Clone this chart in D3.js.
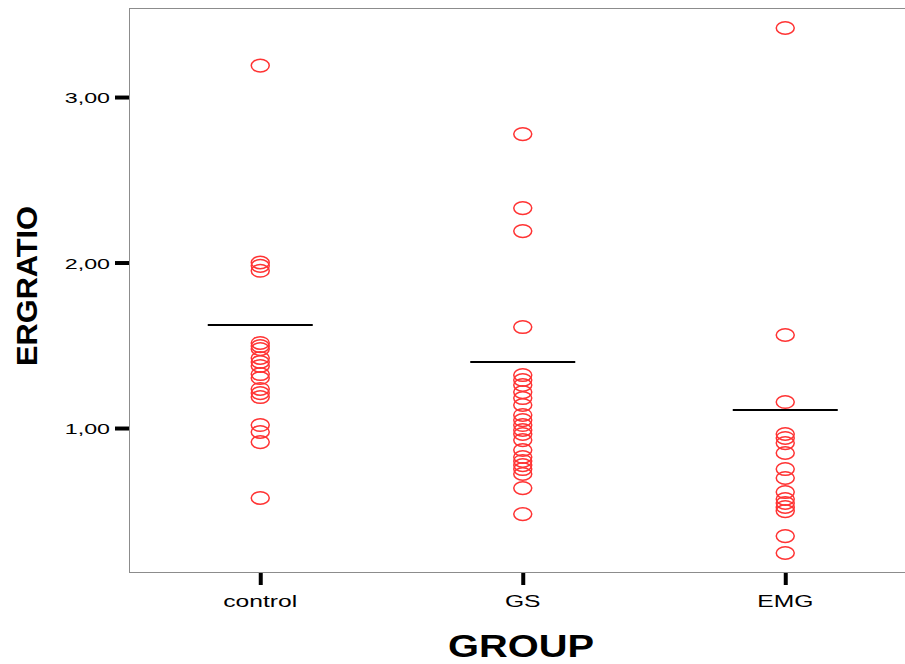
<!DOCTYPE html>
<html>
<head>
<meta charset="utf-8">
<script src="https://cdn.jsdelivr.net/npm/d3@7/dist/d3.min.js"></script>
<style>
  html, body { margin: 0; padding: 0; background: #fff; }
  svg { display: block; font-family: "Liberation Sans", Arial, sans-serif; }
</style>
</head>
<body>
<svg id="chart" width="905" height="664"></svg>
<script>
// Groups on the x axis
const groups = ["control", "GS", "EMG"];

// ERGRATIO observations per group
const controlValues = [3.19, 2.00, 1.98, 1.95, 1.514, 1.495, 1.477, 1.423, 1.399, 1.375,
  1.326, 1.302, 1.236, 1.211, 1.187, 1.018, 0.976, 0.915, 0.577];
const gsValues = [2.776, 2.329, 2.190, 1.610, 1.320, 1.290, 1.260, 1.217, 1.181, 1.139,
  1.079, 1.048, 1.018, 0.988, 0.964, 0.927, 0.867, 0.825, 0.801, 0.776, 0.752, 0.722,
  0.637, 0.480];
const emgValues = [3.417, 1.562, 1.157, 0.964, 0.940, 0.909, 0.849, 0.752, 0.698, 0.613,
  0.571, 0.547, 0.523, 0.498, 0.347, 0.245];

// Group reference lines (horizontal bars)
const groupMeans = [1.622, 1.399, 1.109];

// Y axis ticks
const yTicks = [1, 2, 3];
const yTickLabels = ["1,00", "2,00", "3,00"];

const seriesByGroup = [controlValues, gsValues, emgValues];

const svg = d3.select("#chart");

const plot = { left: 129, top: 8, right: 916.5, bottom: 572 };

const x = d3.scalePoint()
  .domain(groups)
  .range([plot.left, plot.right])
  .padding(0.5);

const y = d3.scaleLinear()
  .domain([0.13, 3.538])
  .range([plot.bottom, plot.top]);

// Plot frame
svg.append("rect")
  .attr("x", plot.left + 0.5)
  .attr("y", plot.top + 0.5)
  .attr("width", plot.right - plot.left)
  .attr("height", plot.bottom - plot.top)
  .attr("fill", "#fff")
  .attr("stroke", "#8c8c8c")
  .attr("stroke-width", 1);

// Y axis: thick ticks and stretched labels
const yAxis = svg.append("g")
  .attr("transform", `translate(${plot.left},0)`)
  .call(d3.axisLeft(y).tickValues(yTicks).tickSize(14).tickFormat(""));
yAxis.select(".domain").remove();
yAxis.selectAll(".tick line").attr("stroke", "#000").attr("stroke-width", 4);

svg.append("g").selectAll("text")
  .data(yTicks)
  .join("text")
  .attr("transform", d => `translate(${plot.left - 19},${y(d) + 6}) scale(1.5,1)`)
  .attr("text-anchor", "end")
  .attr("font-size", 15.5)
  .attr("fill", "#000")
  .text((d, i) => yTickLabels[i]);

// X axis: thick ticks and stretched labels
const xAxis = svg.append("g")
  .attr("transform", `translate(0,${plot.bottom + 1})`)
  .call(d3.axisBottom(x).tickSize(12).tickFormat(""));
xAxis.select(".domain").remove();
xAxis.selectAll(".tick line").attr("stroke", "#000").attr("stroke-width", 4);

svg.append("g").selectAll("text")
  .data(groups)
  .join("text")
  .attr("transform", d => `translate(${x(d)},607) scale(1.45,1)`)
  .attr("text-anchor", "middle")
  .attr("font-size", 17)
  .attr("fill", "#000")
  .text(d => d);

// Data points as open red markers
const points = [];
groups.forEach((g, i) => seriesByGroup[i].forEach(v => points.push({ g, v })));

svg.append("g").selectAll("ellipse")
  .data(points)
  .join("ellipse")
  .attr("cx", d => x(d.g))
  .attr("cy", d => y(d.v))
  .attr("rx", 9)
  .attr("ry", 6.3)
  .attr("fill", "none")
  .attr("stroke", "#ff3333")
  .attr("stroke-width", 1.5);

// Group reference bars
const halfWidth = x.step() * 0.2;
svg.append("g").selectAll("line")
  .data(groups)
  .join("line")
  .attr("x1", d => x(d) - halfWidth)
  .attr("x2", d => x(d) + halfWidth)
  .attr("y1", (d, i) => y(groupMeans[i]))
  .attr("y2", (d, i) => y(groupMeans[i]))
  .attr("stroke", "#000")
  .attr("stroke-width", 2);

// Axis titles
svg.append("text")
  .attr("x", 521)
  .attr("y", 657)
  .attr("text-anchor", "middle")
  .attr("font-size", 32)
  .attr("font-weight", "bold")
  .attr("textLength", 146)
  .attr("lengthAdjust", "spacingAndGlyphs")
  .text("GROUP");

svg.append("text")
  .attr("transform", "translate(37,286) rotate(-90)")
  .attr("text-anchor", "middle")
  .attr("font-size", 29)
  .attr("font-weight", "bold")
  .attr("textLength", 160)
  .attr("lengthAdjust", "spacingAndGlyphs")
  .text("ERGRATIO");
</script>
</body>
</html>
